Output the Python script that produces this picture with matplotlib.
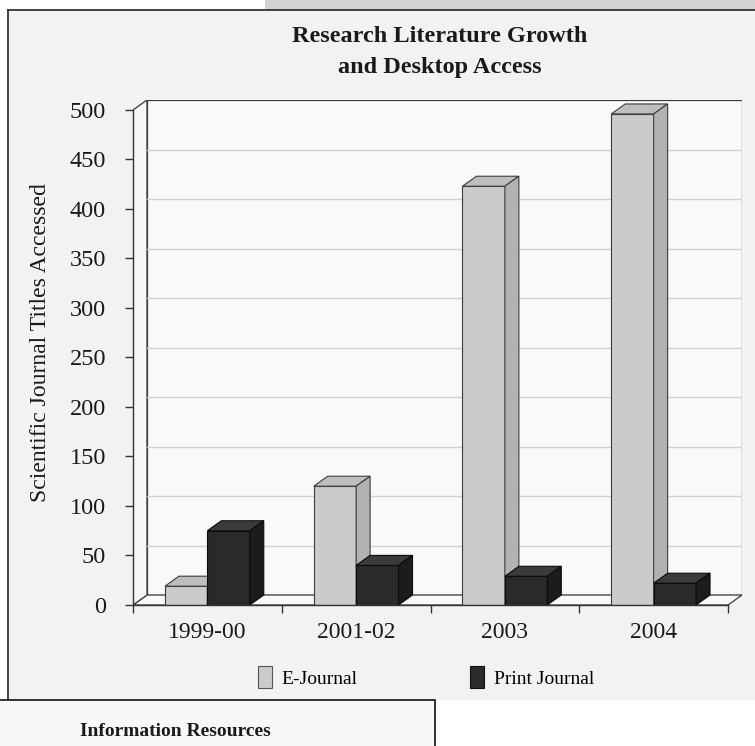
import matplotlib.pyplot as plt
from matplotlib.patches import Polygon, Rectangle, Patch
from matplotlib.lines import Line2D

plt.rcParams["font.family"] = ["Liberation Serif", "DejaVu Serif"]

categories = ["1999-00", "2001-02", "2003", "2004"]
e_journal = [19, 120, 423, 496]
print_journal = [75, 40, 29, 22]
y_ticks = list(range(0, 501, 50))

# depth of the fake 3d box, in data units
DX = 0.094
DY = 10.1
BAR_W = 0.285

E_COLORS = dict(front="#cbcbcb", top="#bebebe", side="#b2b2b2", edge="#3c3c3c")
P_COLORS = dict(front="#2a2a2a", top="#3b3b3b", side="#1c1c1c", edge="#0a0a0a")


def bar3d(ax, x0, h, c):
    ax.add_patch(Rectangle((x0, 0), BAR_W, h, facecolor=c["front"],
                           edgecolor=c["edge"], lw=0.8, zorder=5))
    ax.add_patch(Polygon([(x0, h), (x0 + BAR_W, h), (x0 + BAR_W + DX, h + DY),
                          (x0 + DX, h + DY)], closed=True, facecolor=c["top"],
                         edgecolor=c["edge"], lw=0.8, zorder=5))
    ax.add_patch(Polygon([(x0 + BAR_W, 0), (x0 + BAR_W + DX, DY),
                          (x0 + BAR_W + DX, h + DY), (x0 + BAR_W, h)], closed=True,
                         facecolor=c["side"], edgecolor=c["edge"], lw=0.8, zorder=5))


fig = plt.figure(figsize=(7.55, 7.46), dpi=100)
fig.patch.set_facecolor("white")

W, H = 755.0, 746.0


def fx(px):
    return px / W


def fy(py):
    return 1 - py / H


# page furniture around the chart
fig.patches.append(Rectangle((fx(265), fy(10)), fx(490), 10 / H, transform=fig.transFigure,
                             facecolor="#d2d2d2", edgecolor="none", zorder=-10))
fig.patches.append(Rectangle((fx(8), fy(700)), fx(760), 690 / H, transform=fig.transFigure,
                             facecolor="#f2f2f2", edgecolor="none", zorder=-10))
fig.lines.append(Line2D([fx(8), fx(8)], [fy(10), fy(700)], transform=fig.transFigure,
                        color="#333333", lw=1.3, zorder=-5))
fig.lines.append(Line2D([fx(8), fx(755)], [fy(10), fy(10)], transform=fig.transFigure,
                        color="#333333", lw=1.3, zorder=-5))
fig.patches.append(Rectangle((fx(-2), fy(748)), fx(437), 48 / H, transform=fig.transFigure,
                             facecolor="#f8f8f8", edgecolor="#222222", lw=1.3, zorder=-4))
fig.text(fx(80), fy(731), "Information Resources", fontsize=14, fontweight="bold",
         va="center", ha="left", color="#1a1a1a")

fig.text(fx(440), fy(37), "Research Literature Growth", fontsize=17.5, fontweight="bold",
         ha="center", va="center", color="#1a1a1a")
fig.text(fx(440), fy(68), "and Desktop Access", fontsize=17.5, fontweight="bold",
         ha="center", va="center", color="#1a1a1a")

ax = fig.add_axes([fx(133), fy(605), 609 / W, 505 / H], zorder=2)
ax.set_xlim(0, len(categories) + DX)
ax.set_ylim(0, 500 + DY)
ax.patch.set_alpha(0)

n = len(categories)
top = y_ticks[-1]

# walls and floor
ax.add_patch(Rectangle((DX, DY), n, top, facecolor="#f9f9f9", edgecolor="#3a3a3a",
                       lw=0.9, zorder=1))
ax.add_patch(Polygon([(0, 0), (n, 0), (n + DX, DY), (DX, DY)], closed=True,
                     facecolor="#f9f9f9", edgecolor="#3a3a3a", lw=0.9, zorder=1))
ax.add_patch(Polygon([(0, 0), (DX, DY), (DX, top + DY), (0, top)], closed=True,
                     facecolor="#f6f6f6", edgecolor="#3a3a3a", lw=0.9, zorder=1))
for v in y_ticks[1:-1]:
    ax.plot([DX, n + DX], [v + DY, v + DY], color="#d2d2d2", lw=1.0, zorder=2)

for i in range(n):
    left = i + 0.5 - BAR_W
    bar3d(ax, left, e_journal[i], E_COLORS)
    bar3d(ax, left + BAR_W, print_journal[i], P_COLORS)

for s in ["top", "right"]:
    ax.spines[s].set_visible(False)
ax.spines["left"].set_bounds(0, top)
ax.spines["bottom"].set_bounds(0, n)
for s in ["left", "bottom"]:
    ax.spines[s].set_color("#333333")
    ax.spines[s].set_linewidth(1.0)
    ax.spines[s].set_zorder(6)

ax.set_yticks(y_ticks)
ax.tick_params(axis="y", direction="out", length=5.5, width=1.0, color="#333333",
               labelsize=17.5, pad=14, labelcolor="#1a1a1a")
ax.set_xticks(range(n + 1))
ax.set_xticklabels([])
ax.set_xticks([i + 0.5 for i in range(n)], minor=True)
ax.set_xticklabels(categories, minor=True)
ax.tick_params(axis="x", which="major", direction="out", length=6, width=1.0,
               color="#333333")
ax.tick_params(axis="x", which="minor", length=0, labelsize=17, pad=12,
               labelcolor="#1a1a1a")

ax.set_ylabel("Scientific Journal Titles Accessed", fontsize=17, color="#1a1a1a")
ax.yaxis.set_label_coords(-0.134, 0.52)

handles = [Patch(facecolor=E_COLORS["front"], edgecolor="#555555", lw=0.8),
           Patch(facecolor=P_COLORS["front"], edgecolor="#111111", lw=0.8)]
fig.legend(handles, ["E-Journal", "Print Journal"], loc="center",
           bbox_to_anchor=(fx(426), fy(677)), ncol=2, frameon=False, fontsize=14,
           handlelength=0.7, handleheight=1.3, handletextpad=0.5, columnspacing=5.8)

fig.savefig("out.png", dpi=100)
